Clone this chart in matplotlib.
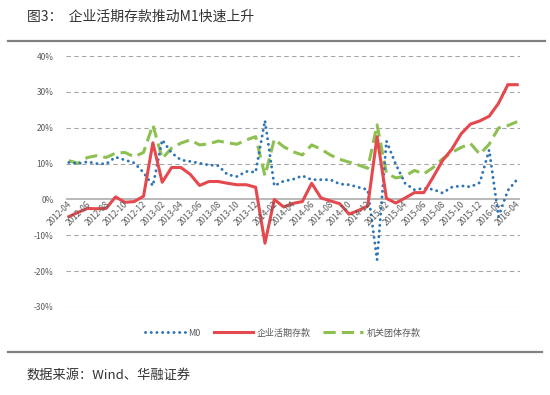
import numpy as np
import matplotlib
matplotlib.use("Agg")
import matplotlib.pyplot as plt
from matplotlib.lines import Line2D

plt.rcParams['font.family'] = ['Noto Sans CJK SC', 'DejaVu Sans']

# monthly data, 2012-04 .. 2016-04 (%, yoy)
months = ['2012-04', '2012-05', '2012-06', '2012-07', '2012-08', '2012-09', '2012-10',
          '2012-11', '2012-12', '2013-01', '2013-02', '2013-03', '2013-04', '2013-05',
          '2013-06', '2013-07', '2013-08', '2013-09', '2013-10', '2013-11', '2013-12',
          '2014-01', '2014-02', '2014-03', '2014-04', '2014-05', '2014-06', '2014-07',
          '2014-08', '2014-09', '2014-10', '2014-11', '2014-12', '2015-01', '2015-02',
          '2015-03', '2015-04', '2015-05', '2015-06', '2015-07', '2015-08', '2015-09',
          '2015-10', '2015-11', '2015-12', '2016-01', '2016-02', '2016-03', '2016-04']

m0 = [10.3, 10.0, 10.5, 10.0, 9.9, 11.8, 11.0, 10.2, 7.5, 3.8,
      16.6, 13.0, 11.0, 10.6, 10.1, 9.6, 9.4, 6.9, 6.4, 7.8,
      7.6, 22.0, 3.8, 5.1, 5.6, 6.6, 5.5, 5.5, 5.5, 4.3,
      4.1, 3.4, 2.7, -16.8, 16.3, 9.8, 4.5, 2.7, 3.1, 2.8,
      1.8, 3.4, 3.8, 3.5, 4.7, 13.8, -4.8, 2.5, 5.6]

corp_demand = [-4.8, -3.6, -2.5, -2.6, -2.5, 0.7, -0.8, -0.6, 0.9, 15.8,
               4.8, 8.9, 8.9, 7.0, 3.9, 5.0, 5.0, 4.5, 4.1, 4.1,
               3.4, -12.2, 0.0, -2.1, -1.1, -0.6, 4.5, 0.4, -0.4, -1.2,
               -4.1, -3.1, -1.8, 17.5, 0.3, -1.0, 0.4, 1.9, 1.9, 6.2,
               10.8, 14.0, 18.3, 21.0, 21.9, 23.2, 26.8, 32.0, 32.0]

org_deposit = [10.8, 10.1, 11.7, 12.2, 11.7, 12.9, 13.1, 11.9, 13.1, 20.8,
               11.4, 14.3, 15.7, 16.6, 15.2, 15.5, 16.3, 15.8, 15.4, 16.6,
               17.5, 6.6, 16.8, 14.7, 13.3, 12.4, 15.2, 14.0, 12.4, 11.2,
               10.4, 9.6, 8.7, 20.8, 7.3, 6.0, 6.5, 8.1, 7.1, 8.9,
               11.3, 13.1, 14.5, 15.6, 12.6, 15.4, 19.9, 20.6, 21.7]

y_ticks = [-30, -20, -10, 0, 10, 20, 30, 40]

BLUE = '#2E75B6'
RED = '#E5484D'
GREEN = '#8DC050'
GRID = '#A6A6A6'
TXT = '#595959'
DOTS = (0, (0.05, 1.9))

fig = plt.figure(figsize=(5.5, 3.95), dpi=100)
ax = fig.add_axes([66 / 550, 1 - 307 / 395, 454 / 550, 251 / 395])

x = np.arange(len(months))

# gridlines
for v in y_ticks:
    if v == 0:
        ax.axhline(v, color=GRID, lw=1.1, zorder=1)
    else:
        ax.axhline(v, color=GRID, lw=0.8, ls=(0, (4, 3)), zorder=1)

ax.plot(x, m0, color=BLUE, lw=2.1, ls=DOTS, dash_capstyle='round', zorder=3, label='M0')
ax.plot(x, corp_demand, color=RED, lw=2.2, zorder=4, label='企业活期存款')
ax.plot(x, org_deposit, color=GREEN, lw=2.2, ls=(0, (4, 2)), zorder=2, label='机关团体存款')

ax.set_xlim(-0.3, len(months) - 0.7)
ax.set_ylim(-30, 40)
ax.set_yticks(y_ticks)
ax.set_yticklabels([f'{v}%' for v in y_ticks], fontsize=6, color=TXT)
ax.tick_params(axis='y', length=0, pad=9)
ax.set_xticks([])
for s in ax.spines.values():
    s.set_visible(False)

# category labels next to the zero line, every second month
for i in range(0, len(months), 2):
    ax.text(i + 0.2, -1.0, months[i], rotation=45, rotation_mode='anchor',
            ha='right', va='center', fontsize=6, color=TXT, zorder=5)

handles = [Line2D([], [], color=BLUE, lw=2.1, ls=DOTS, dash_capstyle='round'),
           Line2D([], [], color=RED, lw=2.2),
           Line2D([], [], color=GREEN, lw=2.2, ls=(0, (4, 2)))]
fig.legend(handles, ['M0', '企业活期存款', '机关团体存款'], loc='center',
           bbox_to_anchor=(283 / 550, 1 - 333 / 395), ncol=3, frameon=False,
           fontsize=6.5, handlelength=4.4, handletextpad=0.4, columnspacing=1.4,
           labelcolor=TXT)

# title, rules, source
fig.text(27 / 550, 1 - 17 / 395, '图3：  企业活期存款推动M1快速上升', fontsize=10,
         color='#333333', ha='left', va='center')
fig.add_artist(Line2D([8 / 550, 545 / 550], [1 - 41 / 395, 1 - 41 / 395],
                      color='#808080', lw=1.6))
fig.add_artist(Line2D([8 / 550, 542 / 550], [1 - 352 / 395, 1 - 352 / 395],
                      color='#808080', lw=1.6))
fig.text(26 / 550, 1 - 375 / 395, '数据来源：Wind、华融证券', fontsize=9.5,
         color='#333333', ha='left', va='center')

fig.savefig('out.png', dpi=100)
